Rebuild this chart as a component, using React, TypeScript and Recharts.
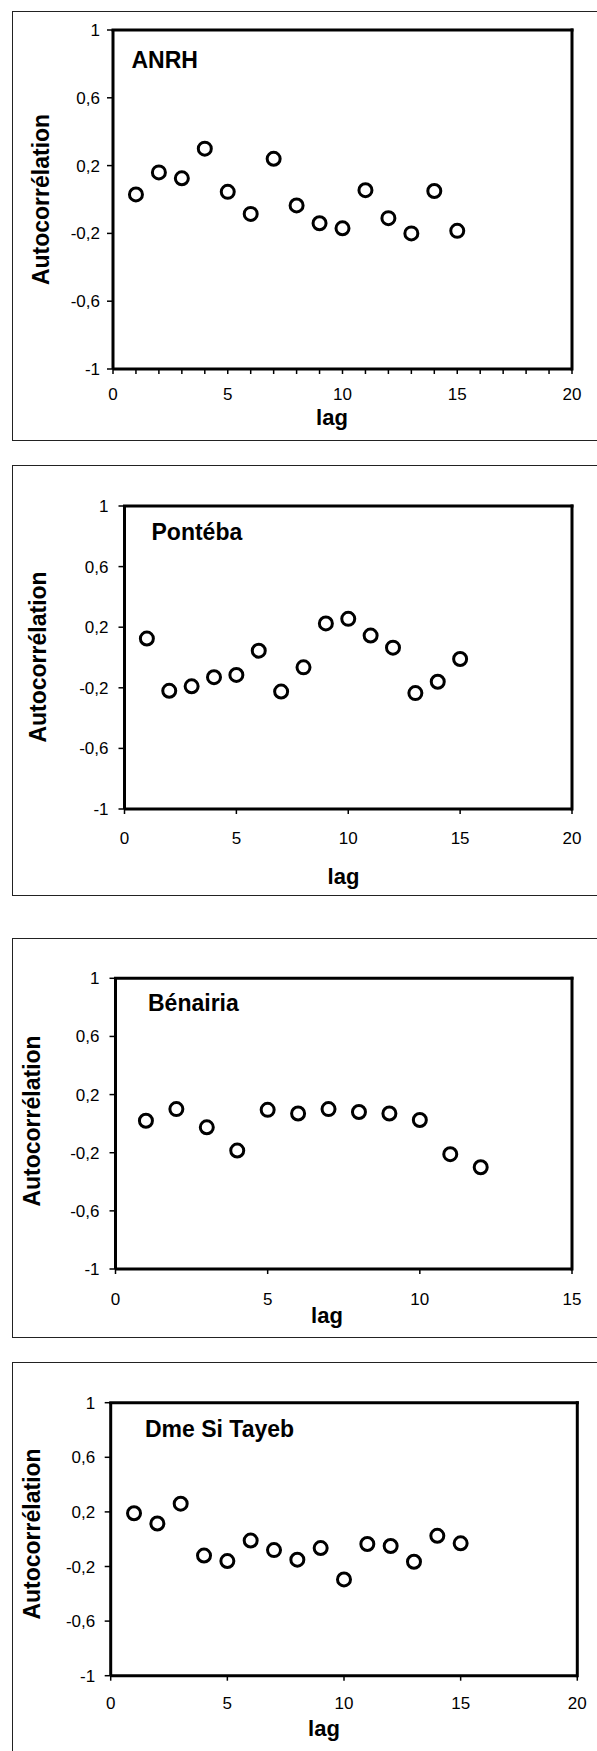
import React from 'react';
import { ScatterChart, Scatter, XAxis, YAxis, ReferenceLine, Label } from 'recharts';

// ---------- data ----------
const yTicks = [-1, -0.6, -0.2, 0.2, 0.6, 1];

const anrhLags = [1, 2, 3, 4, 5, 6, 7, 8, 9, 10, 11, 12, 13, 14, 15];
const anrhValues = [0.03, 0.16, 0.125, 0.3, 0.045, -0.085, 0.24, -0.035, -0.14, -0.17, 0.055, -0.11, -0.2, 0.05, -0.185];

const pontebaLags = [1, 2, 3, 4, 5, 6, 7, 8, 9, 10, 11, 12, 13, 14, 15];
const pontebaValues = [0.125, -0.22, -0.19, -0.13, -0.115, 0.045, -0.225, -0.065, 0.225, 0.255, 0.145, 0.065, -0.235, -0.16, -0.01];

const benairiaLags = [1, 2, 3, 4, 5, 6, 7, 8, 9, 10, 11, 12];
const benairiaValues = [0.02, 0.1, -0.025, -0.185, 0.095, 0.07, 0.1, 0.08, 0.07, 0.025, -0.21, -0.3];

const siTayebLags = [1, 2, 3, 4, 5, 6, 7, 8, 9, 10, 11, 12, 13, 14, 15];
const siTayebValues = [0.19, 0.115, 0.26, -0.12, -0.16, -0.01, -0.08, -0.15, -0.065, -0.295, -0.035, -0.05, -0.165, 0.025, -0.03];

const xTicks20 = [0, 5, 10, 15, 20];
const xTicks20Minor = [0, 1, 2, 3, 4, 5, 6, 7, 8, 9, 10, 11, 12, 13, 14, 15, 16, 17, 18, 19, 20];
const xTicks15 = [0, 5, 10, 15];

const FONT = '"Liberation Sans", Arial, Helvetica, sans-serif';

const fmtY = (v: number) => String(v).replace('.', ',');

type Cfg = {
  title: string;
  lags: number[];
  values: number[];
  xMax: number;
  xTicks: number[];
  boxTop: number;
  boxHeight: number;
  chartHeight: number;
  plotTop: number;
  plotBottom: number;
  plotLeft: number;
  plotRight: number;
  yTickMargin: number;
  xLabelTop: number;
  titleX: number;
  titleBase: number;
  yLabX: number;
  yLabY: number;
  lagX: number;
  lagBase: number;
};

const panels: Cfg[] = [
  {
    title: 'ANRH', lags: anrhLags, values: anrhValues, xMax: 20, xTicks: xTicks20Minor,
    boxTop: 11, boxHeight: 430, chartHeight: 430,
    plotTop: 30, plotBottom: 369, plotLeft: 113, plotRight: 572, yTickMargin: 7,
    xLabelTop: 388, titleX: 131.5, titleBase: 68, yLabX: 41, yLabY: 199.5, lagX: 332, lagBase: 424.5,
  },
  {
    title: 'Pontéba', lags: pontebaLags, values: pontebaValues, xMax: 20, xTicks: xTicks20,
    boxTop: 465, boxHeight: 431, chartHeight: 431,
    plotTop: 506, plotBottom: 809, plotLeft: 124.5, plotRight: 572, yTickMargin: 10,
    xLabelTop: 831.5, titleX: 151.5, titleBase: 539.5, yLabX: 38, yLabY: 657, lagX: 343.5, lagBase: 884,
  },
  {
    title: 'Bénairia', lags: benairiaLags, values: benairiaValues, xMax: 15, xTicks: xTicks15,
    boxTop: 938, boxHeight: 400, chartHeight: 400,
    plotTop: 978.3, plotBottom: 1269, plotLeft: 115.5, plotRight: 572, yTickMargin: 10,
    xLabelTop: 1293, titleX: 148, titleBase: 1010.5, yLabX: 31.5, yLabY: 1121, lagX: 327, lagBase: 1323,
  },
  {
    title: 'Dme Si Tayeb', lags: siTayebLags, values: siTayebValues, xMax: 20, xTicks: xTicks20,
    boxTop: 1362, boxHeight: 420, chartHeight: 389,
    plotTop: 1402.7, plotBottom: 1675.7, plotLeft: 110.7, plotRight: 577.3, yTickMargin: 9.5,
    xLabelTop: 1696.5, titleX: 145, titleBase: 1436.5, yLabX: 32, yLabY: 1534, lagX: 324, lagBase: 1736,
  },
];

const Ring = (props: any) => {
  const { cx, cy } = props;
  if (cx == null || cy == null) return <g />;
  return <circle cx={cx} cy={cy} r={6.5} fill="#fff" stroke="#000" strokeWidth={3} />;
};

function Panel({ cfg }: { cfg: Cfg }) {
  const data = cfg.lags.map((lag, i) => ({ lag, r: cfg.values[i] }));
  const X_AXIS_H = 40;
  const top = cfg.plotTop - cfg.boxTop;
  const bottom = cfg.chartHeight - (cfg.plotBottom - cfg.boxTop) - X_AXIS_H;
  const right = 597 - cfg.plotRight;
  const xTickSize = 5;
  const xTickMargin = cfg.xLabelTop - cfg.plotBottom - xTickSize;
  const rel = (y: number) => y - cfg.boxTop;

  const XTick = (p: any) => {
    const v = p.payload?.value;
    if (v % 5 !== 0) return <g />;
    return (
      <text x={p.x} y={p.y} dy="0.71em" textAnchor="middle" fill="#000" fontSize={17} fontFamily={FONT}>
        {v}
      </text>
    );
  };

  return (
    <>
      <div
        style={{
          position: 'absolute', left: 12, top: cfg.boxTop, width: 620, height: cfg.boxHeight,
          border: '1.5px solid #222', boxSizing: 'border-box',
        }}
      />
      <div style={{ position: 'absolute', left: 0, top: cfg.boxTop }}>
        <ScatterChart
          width={597}
          height={cfg.chartHeight}
          margin={{ top, right, bottom, left: 0 }}
          style={{ overflow: 'visible' }}
        >
          <XAxis
            type="number"
            dataKey="lag"
            domain={[0, cfg.xMax]}
            ticks={cfg.xTicks}
            interval={0}
            height={X_AXIS_H}
            tickSize={xTickSize}
            tickMargin={xTickMargin}
            axisLine={{ stroke: '#000', strokeWidth: 3 }}
            tickLine={{ stroke: '#000', strokeWidth: 1.5 }}
            tick={XTick}
            allowDataOverflow
          >
            <Label
              content={() => (
                <g>
                  <text x={cfg.lagX} y={rel(cfg.lagBase)} textAnchor="middle" fontSize={22} fontWeight="bold" fontFamily={FONT} fill="#000">
                    lag
                  </text>
                  <text x={cfg.titleX} y={rel(cfg.titleBase)} textAnchor="start" fontSize={23} fontWeight="bold" fontFamily={FONT} fill="#000">
                    {cfg.title}
                  </text>
                </g>
              )}
            />
          </XAxis>
          <YAxis
            type="number"
            dataKey="r"
            domain={[-1, 1]}
            ticks={yTicks}
            interval={0}
            width={cfg.plotLeft}
            tickSize={6}
            tickMargin={cfg.yTickMargin}
            tickFormatter={fmtY}
            axisLine={{ stroke: '#000', strokeWidth: 3 }}
            tickLine={{ stroke: '#000', strokeWidth: 1.5 }}
            tick={{ fill: '#000', fontSize: 17, fontFamily: FONT }}
            allowDataOverflow
          >
            <Label
              content={() => (
                <text
                  x={cfg.yLabX}
                  y={rel(cfg.yLabY)}
                  transform={`rotate(-90, ${cfg.yLabX}, ${rel(cfg.yLabY)})`}
                  textAnchor="middle"
                  dominantBaseline="central"
                  fontSize={23}
                  fontWeight="bold"
                  fontFamily={FONT}
                  fill="#000"
                >
                  Autocorrélation
                </text>
              )}
            />
          </YAxis>
          <ReferenceLine y={1} stroke="#000" strokeWidth={3} strokeLinecap="square" />
          <ReferenceLine x={cfg.xMax} stroke="#000" strokeWidth={3} strokeLinecap="square" />
          <Scatter data={data} shape={Ring} isAnimationActive={false} />
        </ScatterChart>
      </div>
    </>
  );
}

export default function App() {
  return (
    <div
      style={{
        position: 'absolute', left: 0, top: 0, width: 597, height: 1751,
        overflow: 'hidden', background: '#fff', fontFamily: FONT,
      }}
    >
      {panels.map((p) => (
        <Panel key={p.title} cfg={p} />
      ))}
    </div>
  );
}
